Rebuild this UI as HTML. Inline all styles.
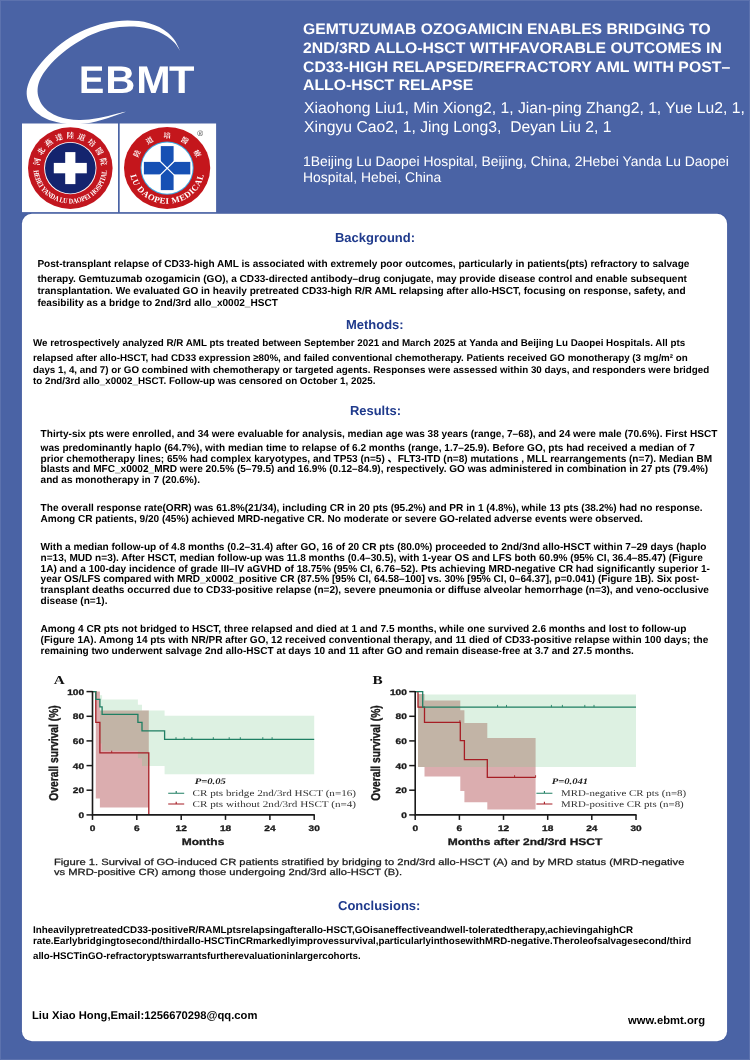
<!DOCTYPE html>
<html lang="en"><head><meta charset="utf-8"><title>EBMT poster</title>
<style>
html,body{margin:0;padding:0}
body{width:750px;height:1060px;position:relative;overflow:hidden;background:#4a63a5;font-family:'Liberation Sans','Noto Sans CJK SC',sans-serif;text-rendering:geometricPrecision}
.t{position:absolute;white-space:pre;line-height:1;transform-origin:0 0;color:#000}
svg{position:absolute;left:0;top:0;overflow:visible}
.edge{position:absolute;left:0;top:0;width:748px;height:1058px;border:1px solid rgba(255,255,255,0.1)}
</style></head><body>
<div class="edge"></div>
<svg width="750" height="1060" viewBox="0 0 750 1060"><rect x="21.4" y="213.2" width="706.2" height="828.6" rx="10.4" fill="#3f579c"/><rect x="21.9" y="213.7" width="705.2" height="827.6" rx="10" fill="#fff"/></svg>
<svg width="750" height="215" viewBox="0 0 750 215">
<path d="M180.2 51.0C179.3 49.3 177.1 43.7 175.0 40.7C172.9 37.7 170.4 35.1 167.8 32.8C165.2 30.5 162.3 28.6 159.2 27.0C156.1 25.4 152.7 24.2 149.3 23.2C145.9 22.2 142.3 21.6 138.7 21.1C135.1 20.7 131.3 20.5 127.6 20.5C123.9 20.5 120.2 20.8 116.5 21.2C112.8 21.6 109.2 22.2 105.6 23.0C102.0 23.8 98.5 24.8 95.1 25.9C91.6 27.0 88.2 28.3 84.9 29.7C81.6 31.1 78.3 32.7 75.1 34.5C71.9 36.3 68.8 38.2 65.8 40.3C62.8 42.4 59.8 44.5 57.0 46.9C54.2 49.2 51.5 51.8 48.9 54.4C46.3 57.0 43.7 59.8 41.3 62.7C38.9 65.6 36.5 68.6 34.5 71.7C32.5 74.8 30.5 78.1 29.2 81.4C27.9 84.7 26.9 88.0 26.7 91.3C26.5 94.6 27.0 98.0 28.1 101.0C29.2 104.0 31.0 107.1 33.2 109.6C35.4 112.1 38.3 114.3 41.4 116.2C44.5 118.1 48.2 119.6 51.8 120.8C55.4 122.0 59.3 122.9 63.1 123.5C66.9 124.1 70.7 124.4 74.4 124.4C78.1 124.4 81.8 124.1 85.4 123.6C89.0 123.1 92.6 122.3 96.1 121.5C99.6 120.7 103.1 119.6 106.6 118.5C110.0 117.4 113.4 116.2 116.8 115.0C120.2 113.8 125.3 111.8 127.0 111.2C125.4 111.6 120.6 112.7 117.5 113.5C114.4 114.3 111.3 115.2 108.2 116.0C105.1 116.8 101.9 117.5 98.7 118.1C95.5 118.7 92.3 119.3 89.0 119.6C85.7 119.9 82.2 120.1 78.7 120.0C75.2 119.9 71.6 119.6 68.2 119.0C64.8 118.4 61.3 117.6 58.2 116.4C55.1 115.2 52.1 113.8 49.5 112.0C46.9 110.2 44.6 108.1 42.8 105.7C41.0 103.3 39.6 100.5 38.7 97.7C37.8 94.9 37.4 91.9 37.6 88.9C37.8 86.0 38.6 82.9 39.8 80.0C41.0 77.1 42.8 74.2 44.7 71.4C46.6 68.6 48.9 65.9 51.2 63.4C53.5 60.9 56.1 58.6 58.6 56.3C61.1 54.0 63.8 51.8 66.5 49.8C69.2 47.8 71.9 45.8 74.7 44.0C77.5 42.2 80.2 40.5 83.1 38.9C85.9 37.3 88.8 35.9 91.8 34.6C94.8 33.3 97.8 32.1 100.8 31.1C103.8 30.1 107.0 29.3 110.1 28.6C113.2 27.9 116.4 27.4 119.6 27.0C122.8 26.6 126.0 26.4 129.3 26.4C132.6 26.4 136.0 26.5 139.3 26.9C142.6 27.3 146.0 27.9 149.2 28.7C152.4 29.5 155.6 30.5 158.6 31.8C161.6 33.1 164.4 34.7 167.1 36.5C169.8 38.3 172.3 40.4 174.5 42.8C176.7 45.2 179.2 49.6 180.2 51.0Z" fill="#fff"/>
<text transform="translate(79.0 92.5) scale(0.985 1)" font-family="'Liberation Sans','Noto Sans CJK SC',sans-serif" font-weight="700" font-size="38.4" fill="#fff">E</text>
<text transform="translate(105.3 92.5) scale(1.085 1)" font-family="'Liberation Sans','Noto Sans CJK SC',sans-serif" font-weight="700" font-size="38.4" fill="#fff">B</text>
<text transform="translate(136.2 92.5) scale(1.075 1)" font-family="'Liberation Sans','Noto Sans CJK SC',sans-serif" font-weight="700" font-size="38.4" fill="#fff">M</text>
<text transform="translate(168.9 92.5) scale(1.085 1)" font-family="'Liberation Sans','Noto Sans CJK SC',sans-serif" font-weight="700" font-size="38.4" fill="#fff">T</text>
<rect x="22" y="123.5" width="96" height="88.6" fill="#fff"/>
<rect x="119.7" y="123.5" width="96.4" height="88.6" fill="#fff"/>
<ellipse cx="70.3" cy="168.1" rx="42.3" ry="40.8" fill="#c2161f"/>
<circle cx="70.3" cy="168.1" r="26.2" fill="#fff"/>
<circle cx="70.3" cy="168.1" r="25.3" fill="#14246e"/>
<rect x="53.8" y="162.9" width="33" height="10.4" fill="#fff"/>
<rect x="65.2" y="152.1" width="10.2" height="32" fill="#fff"/>
<g transform="translate(70.3 168.1) scale(1.04 1) translate(-70.3 -168.1)">
<path id="la" d="M40.3 168.1A30.0 30.0 0 0 1 100.3 168.1" fill="none"/>
<text font-family="'Liberation Serif','Noto Serif CJK SC',serif" font-weight="700" font-size="7.4" fill="#fff" text-anchor="middle"><textPath href="#la" startOffset="50%" textLength="89.5" lengthAdjust="spacing">河北燕達陸道培醫院</textPath></text>
<path id="lb" d="M34.9 168.1A35.4 35.4 0 0 0 105.69999999999999 168.1" fill="none"/>
<text font-family="'Liberation Serif','Noto Serif CJK SC',serif" font-weight="700" font-size="7.2" fill="#fff" text-anchor="middle"><textPath href="#lb" startOffset="50%" textLength="106.3" lengthAdjust="spacingAndGlyphs">HEBEI YANDA LU DAOPEI HOSPITAL</textPath></text>
</g>
<ellipse cx="167.1" cy="167.9" rx="43.1" ry="41" fill="#c4161c"/>
<circle cx="167.1" cy="168.1" r="26.6" fill="#3aa6e0"/>
<circle cx="167.1" cy="168.1" r="25.6" fill="#fff"/>
<rect x="143.9" y="161.9" width="46.4" height="12.5" fill="#1650b4"/>
<rect x="160.79999999999998" y="146.1" width="12.8" height="44" fill="#1650b4"/>
<path d="M159.6 160.70000000000002L174.79999999999998 175.6M174.79999999999998 160.70000000000002L159.6 175.6" stroke="#fff" stroke-width="1.2"/>
<g transform="translate(167.1 167.9) scale(1.05 1) translate(-167.1 -167.9)">
<path id="ra" d="M137.5 167.9A29.6 29.6 0 0 1 196.7 167.9" fill="none"/>
<text font-family="'Liberation Serif','Noto Serif CJK SC',serif" font-weight="700" font-size="7" fill="#fff" text-anchor="middle"><textPath href="#ra" startOffset="50%" textLength="72.3" lengthAdjust="spacing">陸道培醫療</textPath></text>
<path id="rb" d="M131.3 167.9A35.8 35.8 0 0 0 202.89999999999998 167.9" fill="none"/>
<text font-family="'Liberation Serif','Noto Serif CJK SC',serif" font-weight="700" font-size="8.4" fill="#fff" text-anchor="middle"><textPath href="#rb" startOffset="50%" textLength="97.5" lengthAdjust="spacing">LU DAOPEI MEDICAL</textPath></text>
</g>
<text x="200.3" y="136.4" font-family="'Liberation Sans','Noto Sans CJK SC',sans-serif" font-size="8" fill="#4a4a4a" text-anchor="middle">®</text>
</svg>
<svg width="750" height="1060" viewBox="0 0 750 1060" style="filter:blur(0.3px)">
<path d="M95.8 691.6H99.9V710.6H148.8V807.4H99.9V798.4H95.8Z" fill="#a0282d" fill-opacity="0.38"/>
<path d="M99.9 695.3H102.1V699.5H137.9V704.7H142.0V710.6H164.6V715.8H314.2V774.2H164.6V766.1H142.0V758.2H137.9V750.8H102.1V743.4H99.9Z" fill="#78c88c" fill-opacity="0.25"/>
<path d="M92.5 691.6H95.8V722.4H99.9V752.9H148.8V814.9H148.8" fill="none" stroke="#a61d24" stroke-width="1.3"/>
<path d="M92.5 691.6H95.8V699.3H99.9V706.9H102.1V714.3H137.9V722.4H142.0V730.8H164.6V739.3H314.2" fill="none" stroke="#1f7f63" stroke-width="1.3"/>
<path d="M176.0 739.4v-2.2" stroke="#1f7f63" stroke-width="0.9"/>
<path d="M184.1 739.4v-2.2" stroke="#1f7f63" stroke-width="0.9"/>
<path d="M191.9 739.4v-2.2" stroke="#1f7f63" stroke-width="0.9"/>
<path d="M213.3 739.4v-2.2" stroke="#1f7f63" stroke-width="0.9"/>
<path d="M229.2 739.4v-2.2" stroke="#1f7f63" stroke-width="0.9"/>
<path d="M240.3 739.4v-2.2" stroke="#1f7f63" stroke-width="0.9"/>
<path d="M262.8 739.4v-2.2" stroke="#1f7f63" stroke-width="0.9"/>
<path d="M272.1 739.4v-2.2" stroke="#1f7f63" stroke-width="0.9"/>
<path d="M111.7 752.9v-2.2" stroke="#a61d24" stroke-width="0.9"/>
<path d="M92.5 691.0V814.9H314.8" fill="none" stroke="#1a1a1a" stroke-width="1.6"/>
<path d="M86.5 814.9H92.5" stroke="#1a1a1a" stroke-width="1.5"/>
<text transform="translate(84.1 818.0) scale(1.25 1)" text-anchor="end" font-family="'Liberation Sans','Noto Sans CJK SC',sans-serif" font-weight="700" font-size="8.1" fill="#1a1a1a" stroke="#1a1a1a" stroke-width="0.3">0</text>
<path d="M86.5 790.2H92.5" stroke="#1a1a1a" stroke-width="1.5"/>
<text transform="translate(84.1 793.3) scale(1.25 1)" text-anchor="end" font-family="'Liberation Sans','Noto Sans CJK SC',sans-serif" font-weight="700" font-size="8.1" fill="#1a1a1a" stroke="#1a1a1a" stroke-width="0.3">20</text>
<path d="M86.5 765.6H92.5" stroke="#1a1a1a" stroke-width="1.5"/>
<text transform="translate(84.1 768.7) scale(1.25 1)" text-anchor="end" font-family="'Liberation Sans','Noto Sans CJK SC',sans-serif" font-weight="700" font-size="8.1" fill="#1a1a1a" stroke="#1a1a1a" stroke-width="0.3">40</text>
<path d="M86.5 740.9H92.5" stroke="#1a1a1a" stroke-width="1.5"/>
<text transform="translate(84.1 744.0) scale(1.25 1)" text-anchor="end" font-family="'Liberation Sans','Noto Sans CJK SC',sans-serif" font-weight="700" font-size="8.1" fill="#1a1a1a" stroke="#1a1a1a" stroke-width="0.3">60</text>
<path d="M86.5 716.3H92.5" stroke="#1a1a1a" stroke-width="1.5"/>
<text transform="translate(84.1 719.4) scale(1.25 1)" text-anchor="end" font-family="'Liberation Sans','Noto Sans CJK SC',sans-serif" font-weight="700" font-size="8.1" fill="#1a1a1a" stroke="#1a1a1a" stroke-width="0.3">80</text>
<path d="M86.5 691.6H92.5" stroke="#1a1a1a" stroke-width="1.5"/>
<text transform="translate(84.1 694.7) scale(1.25 1)" text-anchor="end" font-family="'Liberation Sans','Noto Sans CJK SC',sans-serif" font-weight="700" font-size="8.1" fill="#1a1a1a" stroke="#1a1a1a" stroke-width="0.3">100</text>
<path d="M92.5 814.9v5" stroke="#1a1a1a" stroke-width="1.5"/>
<text transform="translate(92.5 830.8) scale(1.25 1)" text-anchor="middle" font-family="'Liberation Sans','Noto Sans CJK SC',sans-serif" font-weight="700" font-size="8.1" fill="#1a1a1a" stroke="#1a1a1a" stroke-width="0.3">0</text>
<path d="M136.8 814.9v5" stroke="#1a1a1a" stroke-width="1.5"/>
<text transform="translate(136.8 830.8) scale(1.25 1)" text-anchor="middle" font-family="'Liberation Sans','Noto Sans CJK SC',sans-serif" font-weight="700" font-size="8.1" fill="#1a1a1a" stroke="#1a1a1a" stroke-width="0.3">6</text>
<path d="M181.2 814.9v5" stroke="#1a1a1a" stroke-width="1.5"/>
<text transform="translate(181.2 830.8) scale(1.25 1)" text-anchor="middle" font-family="'Liberation Sans','Noto Sans CJK SC',sans-serif" font-weight="700" font-size="8.1" fill="#1a1a1a" stroke="#1a1a1a" stroke-width="0.3">12</text>
<path d="M225.5 814.9v5" stroke="#1a1a1a" stroke-width="1.5"/>
<text transform="translate(225.5 830.8) scale(1.25 1)" text-anchor="middle" font-family="'Liberation Sans','Noto Sans CJK SC',sans-serif" font-weight="700" font-size="8.1" fill="#1a1a1a" stroke="#1a1a1a" stroke-width="0.3">18</text>
<path d="M269.9 814.9v5" stroke="#1a1a1a" stroke-width="1.5"/>
<text transform="translate(269.9 830.8) scale(1.25 1)" text-anchor="middle" font-family="'Liberation Sans','Noto Sans CJK SC',sans-serif" font-weight="700" font-size="8.1" fill="#1a1a1a" stroke="#1a1a1a" stroke-width="0.3">24</text>
<path d="M314.2 814.9v5" stroke="#1a1a1a" stroke-width="1.5"/>
<text transform="translate(314.2 830.8) scale(1.25 1)" text-anchor="middle" font-family="'Liberation Sans','Noto Sans CJK SC',sans-serif" font-weight="700" font-size="8.1" fill="#1a1a1a" stroke="#1a1a1a" stroke-width="0.3">30</text>
<path d="M418.0 694.1H424.5V700.4H460.3V710.3H464.4V723.0H487.3V738.1H535.6V809.6H487.3V802.2H464.4V790.9H460.3V776.4H424.5V767.1H418.0Z" fill="#a0282d" fill-opacity="0.38"/>
<path d="M418.0 694.4H636.0V767.1H418.0Z" fill="#78c88c" fill-opacity="0.25"/>
<path d="M415.2 691.6H418.0V707.1H424.5V722.4H460.3V740.7H464.4V759.7H487.3V777.4H535.6" fill="none" stroke="#a61d24" stroke-width="1.3"/>
<path d="M415.2 691.6H422.7V707.1H636.0" fill="none" stroke="#1f7f63" stroke-width="1.3"/>
<path d="M497.6 707.1v-2.2" stroke="#1f7f63" stroke-width="0.9"/>
<path d="M506.5 707.1v-2.2" stroke="#1f7f63" stroke-width="0.9"/>
<path d="M551.4 707.1v-2.2" stroke="#1f7f63" stroke-width="0.9"/>
<path d="M562.4 707.1v-2.2" stroke="#1f7f63" stroke-width="0.9"/>
<path d="M584.8 707.1v-2.2" stroke="#1f7f63" stroke-width="0.9"/>
<path d="M594.0 707.1v-2.2" stroke="#1f7f63" stroke-width="0.9"/>
<path d="M459.9 722.4v-2.2" stroke="#a61d24" stroke-width="0.9"/>
<path d="M514.6 777.4v-2.2" stroke="#a61d24" stroke-width="0.9"/>
<path d="M535.6 777.4v-2.2" stroke="#a61d24" stroke-width="0.9"/>
<path d="M415.2 691.0V814.9H636.6" fill="none" stroke="#1a1a1a" stroke-width="1.6"/>
<path d="M409.2 814.9H415.2" stroke="#1a1a1a" stroke-width="1.5"/>
<text transform="translate(406.8 818.0) scale(1.25 1)" text-anchor="end" font-family="'Liberation Sans','Noto Sans CJK SC',sans-serif" font-weight="700" font-size="8.1" fill="#1a1a1a" stroke="#1a1a1a" stroke-width="0.3">0</text>
<path d="M409.2 790.2H415.2" stroke="#1a1a1a" stroke-width="1.5"/>
<text transform="translate(406.8 793.3) scale(1.25 1)" text-anchor="end" font-family="'Liberation Sans','Noto Sans CJK SC',sans-serif" font-weight="700" font-size="8.1" fill="#1a1a1a" stroke="#1a1a1a" stroke-width="0.3">20</text>
<path d="M409.2 765.6H415.2" stroke="#1a1a1a" stroke-width="1.5"/>
<text transform="translate(406.8 768.7) scale(1.25 1)" text-anchor="end" font-family="'Liberation Sans','Noto Sans CJK SC',sans-serif" font-weight="700" font-size="8.1" fill="#1a1a1a" stroke="#1a1a1a" stroke-width="0.3">40</text>
<path d="M409.2 740.9H415.2" stroke="#1a1a1a" stroke-width="1.5"/>
<text transform="translate(406.8 744.0) scale(1.25 1)" text-anchor="end" font-family="'Liberation Sans','Noto Sans CJK SC',sans-serif" font-weight="700" font-size="8.1" fill="#1a1a1a" stroke="#1a1a1a" stroke-width="0.3">60</text>
<path d="M409.2 716.3H415.2" stroke="#1a1a1a" stroke-width="1.5"/>
<text transform="translate(406.8 719.4) scale(1.25 1)" text-anchor="end" font-family="'Liberation Sans','Noto Sans CJK SC',sans-serif" font-weight="700" font-size="8.1" fill="#1a1a1a" stroke="#1a1a1a" stroke-width="0.3">80</text>
<path d="M409.2 691.6H415.2" stroke="#1a1a1a" stroke-width="1.5"/>
<text transform="translate(406.8 694.7) scale(1.25 1)" text-anchor="end" font-family="'Liberation Sans','Noto Sans CJK SC',sans-serif" font-weight="700" font-size="8.1" fill="#1a1a1a" stroke="#1a1a1a" stroke-width="0.3">100</text>
<path d="M415.2 814.9v5" stroke="#1a1a1a" stroke-width="1.5"/>
<text transform="translate(415.2 830.8) scale(1.25 1)" text-anchor="middle" font-family="'Liberation Sans','Noto Sans CJK SC',sans-serif" font-weight="700" font-size="8.1" fill="#1a1a1a" stroke="#1a1a1a" stroke-width="0.3">0</text>
<path d="M459.4 814.9v5" stroke="#1a1a1a" stroke-width="1.5"/>
<text transform="translate(459.4 830.8) scale(1.25 1)" text-anchor="middle" font-family="'Liberation Sans','Noto Sans CJK SC',sans-serif" font-weight="700" font-size="8.1" fill="#1a1a1a" stroke="#1a1a1a" stroke-width="0.3">6</text>
<path d="M503.5 814.9v5" stroke="#1a1a1a" stroke-width="1.5"/>
<text transform="translate(503.5 830.8) scale(1.25 1)" text-anchor="middle" font-family="'Liberation Sans','Noto Sans CJK SC',sans-serif" font-weight="700" font-size="8.1" fill="#1a1a1a" stroke="#1a1a1a" stroke-width="0.3">12</text>
<path d="M547.7 814.9v5" stroke="#1a1a1a" stroke-width="1.5"/>
<text transform="translate(547.7 830.8) scale(1.25 1)" text-anchor="middle" font-family="'Liberation Sans','Noto Sans CJK SC',sans-serif" font-weight="700" font-size="8.1" fill="#1a1a1a" stroke="#1a1a1a" stroke-width="0.3">18</text>
<path d="M591.8 814.9v5" stroke="#1a1a1a" stroke-width="1.5"/>
<text transform="translate(591.8 830.8) scale(1.25 1)" text-anchor="middle" font-family="'Liberation Sans','Noto Sans CJK SC',sans-serif" font-weight="700" font-size="8.1" fill="#1a1a1a" stroke="#1a1a1a" stroke-width="0.3">24</text>
<path d="M636.0 814.9v5" stroke="#1a1a1a" stroke-width="1.5"/>
<text transform="translate(636.0 830.8) scale(1.25 1)" text-anchor="middle" font-family="'Liberation Sans','Noto Sans CJK SC',sans-serif" font-weight="700" font-size="8.1" fill="#1a1a1a" stroke="#1a1a1a" stroke-width="0.3">30</text>
<text transform="translate(194.7 783.9) scale(1.25 1)" font-family="'Liberation Serif','Noto Serif CJK SC',serif" font-weight="700" font-style="italic" font-size="8.5" fill="#222">P=0.05</text>
<path d="M168.2 793.2h16M176.2 793.2v-2.2" stroke="#1f7f63" stroke-width="1.1" fill="none"/>
<text transform="translate(192.5 796.0) scale(1.255 1)" font-family="'Liberation Serif','Noto Serif CJK SC',serif" font-size="8.9" fill="#333">CR pts bridge 2nd/3rd HSCT (n=16)</text>
<path d="M168.2 804.0h16M176.2 804.0v-2.2" stroke="#a61d24" stroke-width="1.1" fill="none"/>
<text transform="translate(192.5 806.8) scale(1.255 1)" font-family="'Liberation Serif','Noto Serif CJK SC',serif" font-size="8.9" fill="#333">CR pts without 2nd/3rd HSCT (n=4)</text>
<text transform="translate(551.7 783.9) scale(1.25 1)" font-family="'Liberation Serif','Noto Serif CJK SC',serif" font-weight="700" font-style="italic" font-size="8.5" fill="#222">P=0.041</text>
<path d="M536.4 793.2h16M544.4 793.2v-2.2" stroke="#1f7f63" stroke-width="1.1" fill="none"/>
<text transform="translate(561.0 796.0) scale(1.228 1)" font-family="'Liberation Serif','Noto Serif CJK SC',serif" font-size="8.9" fill="#333">MRD-negative CR pts (n=8)</text>
<path d="M536.4 804.0h16M544.4 804.0v-2.2" stroke="#a61d24" stroke-width="1.1" fill="none"/>
<text transform="translate(561.0 806.8) scale(1.228 1)" font-family="'Liberation Serif','Noto Serif CJK SC',serif" font-size="8.9" fill="#333">MRD-positive CR pts (n=8)</text>
<text transform="translate(53.7 684.4) scale(1.26 1)" font-family="'Liberation Serif','Noto Serif CJK SC',serif" font-weight="700" font-size="12.1" fill="#111">A</text>
<text transform="translate(372.6 684.4) scale(1.26 1)" font-family="'Liberation Serif','Noto Serif CJK SC',serif" font-weight="700" font-size="12.1" fill="#111">B</text>
<text transform="translate(203.0 844.7) scale(1.25 1)" text-anchor="middle" font-family="'Liberation Sans','Noto Sans CJK SC',sans-serif" font-weight="700" font-size="9.6" fill="#1a1a1a" stroke="#1a1a1a" stroke-width="0.3">Months</text>
<text transform="translate(525.0 844.7) scale(1.25 1)" text-anchor="middle" font-family="'Liberation Sans','Noto Sans CJK SC',sans-serif" font-weight="700" font-size="9.6" fill="#1a1a1a" stroke="#1a1a1a" stroke-width="0.3">Months after 2nd/3rd HSCT</text>
<text transform="translate(57.6 753.0) scale(1.25 1) rotate(-90)" text-anchor="middle" font-family="'Liberation Sans','Noto Sans CJK SC',sans-serif" font-weight="700" font-size="10.3" fill="#1a1a1a" stroke="#1a1a1a" stroke-width="0.3">Overall survival (%)</text>
<text transform="translate(379.8 753.0) scale(1.25 1) rotate(-90)" text-anchor="middle" font-family="'Liberation Sans','Noto Sans CJK SC',sans-serif" font-weight="700" font-size="10.3" fill="#1a1a1a" stroke="#1a1a1a" stroke-width="0.3">Overall survival (%)</text>
</svg>
<div class="t" style="left:302.8px;top:22px;font-size:15.2px;font-weight:700;color:#fff;transform:scaleX(1.0335)">GEMTUZUMAB OZOGAMICIN ENABLES BRIDGING TO</div>
<div class="t" style="left:302.8px;top:41px;font-size:15.2px;font-weight:700;color:#fff;transform:scaleX(1.0384)">2ND/3RD ALLO-HSCT WITHFAVORABLE OUTCOMES IN</div>
<div class="t" style="left:302.8px;top:60px;font-size:15.2px;font-weight:700;color:#fff;transform:scaleX(1.0402)">CD33-HIGH RELAPSED/REFRACTORY AML WITH POST–</div>
<div class="t" style="left:302.8px;top:78px;font-size:15.2px;font-weight:700;color:#fff;transform:scaleX(1.0402)">ALLO-HSCT RELAPSE</div>
<div class="t" style="left:304.2px;top:101px;font-size:15.7px;color:#fff;transform:scaleX(1.0015)">Xiaohong Liu1, Min Xiong2, 1, Jian-ping Zhang2, 1, Yue Lu2, 1,</div>
<div class="t" style="left:304.2px;top:120px;font-size:15.7px;color:#fff;transform:scaleX(1.0015)">Xingyu Cao2, 1, Jing Long3,  Deyan Liu 2, 1</div>
<div class="t" style="left:302.8px;top:155px;font-size:13.9px;color:#fff;transform:scaleX(1.0001)">1Beijing Lu Daopei Hospital, Beijing, China, 2Hebei Yanda Lu Daopei</div>
<div class="t" style="left:302.8px;top:171px;font-size:13.9px;color:#fff;transform:scaleX(1.0001)">Hospital, Hebei, China</div>
<div class="t" style="left:335.0px;top:232px;font-size:12.95px;font-weight:700;color:#1f3a8c;transform:scaleX(1.0025)">Background:</div>
<div class="t" style="left:346.0px;top:319px;font-size:12.95px;font-weight:700;color:#1f3a8c;transform:scaleX(1.0017)">Methods:</div>
<div class="t" style="left:349.6px;top:405px;font-size:12.95px;font-weight:700;color:#1f3a8c;transform:scaleX(0.9991)">Results:</div>
<div class="t" style="left:338.0px;top:900px;font-size:12.95px;font-weight:700;color:#1f3a8c;transform:scaleX(1.0055)">Conclusions:</div>
<div class="t" style="left:37.4px;top:260px;font-size:10.07px;font-weight:700;transform:scaleX(1.0000)">Post-transplant relapse of CD33-high AML is associated with extremely poor outcomes, particularly in patients(pts) refractory to salvage</div>
<div class="t" style="left:37.4px;top:275px;font-size:10.07px;font-weight:700;transform:scaleX(1.0000)">therapy. Gemtuzumab ozogamicin (GO), a CD33-directed antibody–drug conjugate, may provide disease control and enable subsequent</div>
<div class="t" style="left:37.4px;top:287px;font-size:10.07px;font-weight:700;transform:scaleX(1.0000)">transplantation. We evaluated GO in heavily pretreated CD33-high R/R AML relapsing after allo-HSCT, focusing on response, safety, and</div>
<div class="t" style="left:37.4px;top:299px;font-size:10.07px;font-weight:700;transform:scaleX(1.0000)">feasibility as a bridge to 2nd/3rd allo_x0002_HSCT</div>
<div class="t" style="left:33.0px;top:339px;font-size:9.79px;font-weight:700;transform:scaleX(1.0000)">We retrospectively analyzed R/R AML pts treated between September 2021 and March 2025 at Yanda and Beijing Lu Daopei Hospitals. All pts</div>
<div class="t" style="left:33.0px;top:354px;font-size:9.79px;font-weight:700;transform:scaleX(1.0000)">relapsed after allo-HSCT, had CD33 expression ≥80%, and failed conventional chemotherapy. Patients received GO monotherapy (3 mg/m² on</div>
<div class="t" style="left:33.0px;top:366px;font-size:9.79px;font-weight:700;transform:scaleX(1.0000)">days 1, 4, and 7) or GO combined with chemotherapy or targeted agents. Responses were assessed within 30 days, and responders were bridged</div>
<div class="t" style="left:33.0px;top:377px;font-size:9.79px;font-weight:700;transform:scaleX(1.0000)">to 2nd/3rd allo_x0002_HSCT. Follow-up was censored on October 1, 2025.</div>
<div class="t" style="left:40.6px;top:430px;font-size:10.07px;font-weight:700;transform:scaleX(1.0000)">Thirty-six pts were enrolled, and 34 were evaluable for analysis, median age was 38 years (range, 7–68), and 24 were male (70.6%). First HSCT</div>
<div class="t" style="left:40.6px;top:444px;font-size:10.07px;font-weight:700;transform:scaleX(1.0000)">was predominantly haplo (64.7%), with median time to relapse of 6.2 months (range, 1.7–25.9). Before GO, pts had received a median of 7</div>
<div class="t" style="left:40.6px;top:455px;font-size:10.07px;font-weight:700;transform:scaleX(1.0000)">prior chemotherapy lines; 65% had complex karyotypes, and TP53 (n=5) 、FLT3-ITD (n=8) mutations , MLL rearrangements (n=7). Median BM</div>
<div class="t" style="left:40.6px;top:465px;font-size:10.07px;font-weight:700;transform:scaleX(1.0000)">blasts and MFC_x0002_MRD were 20.5% (5–79.5) and 16.9% (0.12–84.9), respectively. GO was administered in combination in 27 pts (79.4%)</div>
<div class="t" style="left:40.6px;top:476px;font-size:10.07px;font-weight:700;transform:scaleX(1.0000)">and as monotherapy in 7 (20.6%).</div>
<div class="t" style="left:40.6px;top:504px;font-size:10.07px;font-weight:700;transform:scaleX(1.0000)">The overall response rate(ORR) was 61.8%(21/34), including CR in 20 pts (95.2%) and PR in 1 (4.8%), while 13 pts (38.2%) had no response.</div>
<div class="t" style="left:40.6px;top:515px;font-size:10.07px;font-weight:700;transform:scaleX(1.0000)">Among CR patients, 9/20 (45%) achieved MRD-negative CR. No moderate or severe GO-related adverse events were observed.</div>
<div class="t" style="left:40.6px;top:543px;font-size:10.07px;font-weight:700;transform:scaleX(1.0000)">With a median follow-up of 4.8 months (0.2–31.4) after GO, 16 of 20 CR pts (80.0%) proceeded to 2nd/3nd allo-HSCT within 7–29 days (haplo</div>
<div class="t" style="left:40.6px;top:554px;font-size:10.07px;font-weight:700;transform:scaleX(1.0000)">n=13, MUD n=3). After HSCT, median follow-up was 11.8 months (0.4–30.5), with 1-year OS and LFS both 60.9% (95% CI, 36.4–85.47) (Figure</div>
<div class="t" style="left:40.6px;top:565px;font-size:10.07px;font-weight:700;transform:scaleX(1.0000)">1A) and a 100-day incidence of grade III–IV aGVHD of 18.75% (95% CI, 6.76–52). Pts achieving MRD-negative CR had significantly superior 1-</div>
<div class="t" style="left:40.6px;top:575px;font-size:10.07px;font-weight:700;transform:scaleX(1.0000)">year OS/LFS compared with MRD_x0002_positive CR (87.5% [95% CI, 64.58–100] vs. 30% [95% CI, 0–64.37], p=0.041) (Figure 1B). Six post-</div>
<div class="t" style="left:40.6px;top:586px;font-size:10.07px;font-weight:700;transform:scaleX(1.0000)">transplant deaths occurred due to CD33-positive relapse (n=2), severe pneumonia or diffuse alveolar hemorrhage (n=3), and veno-occlusive</div>
<div class="t" style="left:40.6px;top:597px;font-size:10.07px;font-weight:700;transform:scaleX(1.0000)">disease (n=1).</div>
<div class="t" style="left:40.6px;top:625px;font-size:10.07px;font-weight:700;transform:scaleX(1.0000)">Among 4 CR pts not bridged to HSCT, three relapsed and died at 1 and 7.5 months, while one survived 2.6 months and lost to follow-up</div>
<div class="t" style="left:40.6px;top:636px;font-size:10.07px;font-weight:700;transform:scaleX(1.0000)">(Figure 1A). Among 14 pts with NR/PR after GO, 12 received conventional therapy, and 11 died of CD33-positive relapse within 100 days; the</div>
<div class="t" style="left:40.6px;top:647px;font-size:10.07px;font-weight:700;transform:scaleX(1.0000)">remaining two underwent salvage 2nd allo-HSCT at days 10 and 11 after GO and remain disease-free at 3.7 and 27.5 months.</div>
<div class="t" style="left:53.8px;top:858px;font-size:9.0px;color:#1a1a1a;-webkit-text-stroke:0.25px #1a1a1a;transform:scaleX(1.2433)">Figure 1. Survival of GO-induced CR patients stratified by bridging to 2nd/3rd allo-HSCT (A) and by MRD status (MRD-negative</div>
<div class="t" style="left:53.8px;top:868px;font-size:9.0px;color:#1a1a1a;-webkit-text-stroke:0.25px #1a1a1a;transform:scaleX(1.2433)">vs MRD-positive CR) among those undergoing 2nd/3rd allo-HSCT (B).</div>
<div class="t" style="left:33.4px;top:926px;font-size:9.75px;font-weight:700;transform:scaleX(1.0063)">InheavilypretreatedCD33-positiveR/RAMLptsrelapsingafterallo-HSCT,GOisaneffectiveandwell-toleratedtherapy,achievingahighCR</div>
<div class="t" style="left:33.4px;top:937px;font-size:9.75px;font-weight:700;transform:scaleX(0.9984)">rate.Earlybridgingtosecond/thirdallo-HSCTinCRmarkedlyimprovessurvival,particularlyinthosewithMRD-negative.Theroleofsalvagesecond/third</div>
<div class="t" style="left:33.4px;top:952px;font-size:9.75px;font-weight:700;transform:scaleX(0.9984)">allo-HSCTinGO-refractoryptswarrantsfurtherevaluationinlargercohorts.</div>
<div class="t" style="left:32.3px;top:1011px;font-size:11.2px;font-weight:700;transform:scaleX(1.0027)">Liu Xiao Hong,Email:1256670298@qq.com</div>
<div class="t" style="left:628.0px;top:1016px;font-size:11.3px;font-weight:700;transform:scaleX(0.9946)">www.ebmt.org</div>
</body></html>
